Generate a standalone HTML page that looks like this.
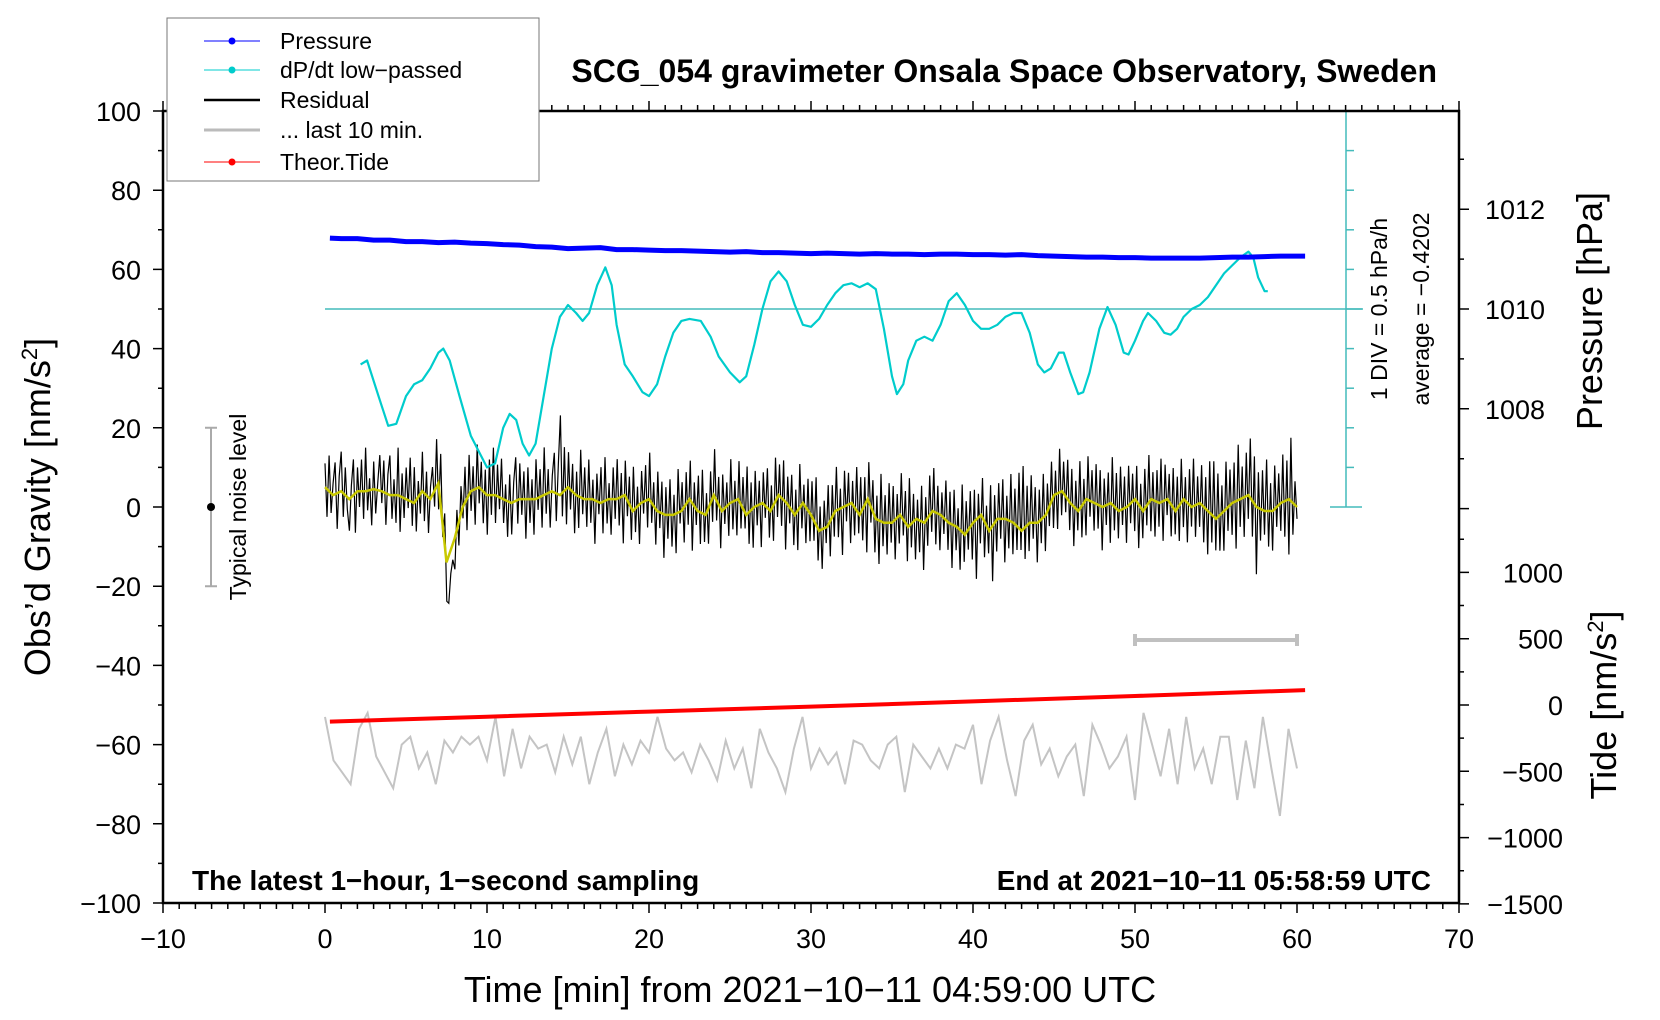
<!DOCTYPE html>
<html><head><meta charset="utf-8">
<style>
html,body{margin:0;padding:0;background:#fff;}
svg{display:block;font-family:"Liberation Sans",sans-serif;}
</style></head>
<body>
<svg id="chart" width="1660" height="1020" viewBox="0 0 1660 1020" xmlns="http://www.w3.org/2000/svg">
<rect x="0" y="0" width="1660" height="1020" fill="#fff"/>
<g id="marks"></g>
<g id="axes"></g>
<text x="1437" y="82" text-anchor="end" font-size="32" font-weight="bold">SCG_054 gravimeter Onsala Space Observatory, Sweden</text>
<text x="192" y="890" font-size="28" font-weight="bold">The latest 1−hour, 1−second sampling</text>
<text x="1431" y="890" text-anchor="end" font-size="28" font-weight="bold">End at 2021−10−11 05:58:59 UTC</text>
<text x="810" y="1002" text-anchor="middle" font-size="36">Time [min] from 2021−10−11 04:59:00 UTC</text>
<text transform="translate(50,507) rotate(-90)" text-anchor="middle" font-size="36">Obs’d Gravity [nm/s<tspan font-size="22" dy="-13">2</tspan><tspan dy="13">]</tspan></text>
<text transform="translate(1602,311) rotate(-90)" text-anchor="middle" font-size="36">Pressure [hPa]</text>
<text transform="translate(1616,705) rotate(-90)" text-anchor="middle" font-size="36">Tide [nm/s<tspan font-size="22" dy="-13">2</tspan><tspan dy="13">]</tspan></text>
<text transform="translate(1387,309) rotate(-90)" text-anchor="middle" font-size="23">1 DIV = 0.5 hPa/h</text>
<text transform="translate(1429,309) rotate(-90)" text-anchor="middle" font-size="23">average = −0.4202</text>
<text transform="translate(246,507) rotate(-90)" text-anchor="middle" font-size="23">Typical noise level</text>
<g>
<rect x="167" y="18" width="372" height="163" fill="#fff" stroke="#777" stroke-width="1"/>
<line x1="204" y1="41" x2="260" y2="41" stroke="#00f" stroke-width="1"/><circle cx="232" cy="41" r="3.5" fill="#00f"/>
<text x="280" y="49" font-size="23">Pressure</text>
<line x1="204" y1="70" x2="260" y2="70" stroke="#00cccc" stroke-width="1"/><circle cx="232" cy="70" r="3.5" fill="#00cccc"/>
<text x="280" y="78" font-size="23">dP/dt low−passed</text>
<line x1="204" y1="100" x2="260" y2="100" stroke="#000" stroke-width="2.5"/>
<text x="280" y="108" font-size="23">Residual</text>
<line x1="204" y1="130" x2="260" y2="130" stroke="#bbb" stroke-width="3"/>
<text x="280" y="138" font-size="23">... last 10 min.</text>
<line x1="204" y1="162" x2="260" y2="162" stroke="#f00" stroke-width="1"/><circle cx="232" cy="162" r="3.5" fill="#f00"/>
<text x="280" y="170" font-size="23">Theor.Tide</text>
</g>
</svg>
<script>
// ---- data ----
const pressTimes = [0.3,1,2,3,4,5,6,7,8,9,10,11,12,13,14,15,16,17,18,19,20,21,22,23,24,25,26,27,28,29,30,31,32,33,34,35,36,37,38,39,40,41,42,43,44,45,46,47,48,49,50,51,52,53,54,55,56,57,58,59,60.5];
const pressVals = [1011.42,1011.41,1011.41,1011.38,1011.38,1011.35,1011.35,1011.33,1011.34,1011.32,1011.31,1011.29,1011.28,1011.25,1011.24,1011.21,1011.22,1011.23,1011.19,1011.19,1011.18,1011.17,1011.17,1011.16,1011.15,1011.14,1011.15,1011.13,1011.13,1011.12,1011.11,1011.12,1011.11,1011.10,1011.11,1011.10,1011.10,1011.09,1011.10,1011.10,1011.09,1011.09,1011.08,1011.09,1011.07,1011.06,1011.05,1011.04,1011.04,1011.03,1011.03,1011.02,1011.02,1011.02,1011.02,1011.03,1011.04,1011.04,1011.05,1011.06,1011.06];
const dpTimes = [2.2,2.6,3.3,3.9,4.4,5,5.5,6,6.5,7,7.3,7.7,8.3,9,9.5,10,10.5,11,11.4,11.8,12.2,12.6,13,13.5,14,14.5,15,15.5,15.9,16.3,16.8,17.3,17.7,18,18.5,19,19.6,20,20.5,21,21.5,22,22.5,23.2,23.8,24.3,25,25.6,26,26.5,27,27.5,28,28.5,29,29.5,30,30.5,31,31.5,32,32.5,33,33.5,34,34.5,35,35.3,35.7,36,36.5,37,37.5,38,38.5,39,39.5,40,40.5,41,41.5,42,42.5,43,43.5,44,44.4,44.8,45.3,45.6,46,46.5,46.8,47.2,47.8,48.3,48.8,49.3,49.6,50,50.5,50.8,51.3,51.8,52.2,52.6,53,53.5,54,54.5,55,55.5,56,56.5,57,57.3,57.6,58,58.2];
const dpGravReading = [36,37,28,20.5,21,28,31,32,35,39,40,37,28,18,14,10,11,20,23.5,22,16,13,16,28,40,48,51,49,47,49,56,60.5,56,46,36,33,29,28,31,38,44,47,47.5,47,43,38,34,31.5,33,41,50,57,59.5,57,51,46,45.5,47.5,51,54,56,56.5,55.5,56.5,55,45,33,28.5,31,37,42,43,42,46,52,54,51,47,45,45,46,48,49,49,44,36,34,35,39,39,34,28.5,29,34,45,50.5,46,39,38.5,42,47,49,47,44,43.5,45,48,50,51,53,56,59,61,63,64.5,63,58,54.5,54.5];
const dpAverage = -0.4202;
const smoothVals = [5,3,4,2,4,4,4.5,4,3,3,2,1,4,2,6,-14,-8,0,4,5,3,3,2,1,2,2,2,3,4,3,5,3,2,2,1,2,2,3,-1,1,2,-1,-2,-2,-1,2,-1,-2,3,-1,1,2,-2,0,1,-1,3,1,-2,1,-2,-6,-5,-1,0,1,-2,2,-3,-4,-4,-2,-5,-3,-4,-1,-2,-4,-5,-7,-4,-2,-6,-3,-3,-4,-6,-4,-4,-2,3,4,1,-1,2,1,0,1,-1,0,2,-1,2,1,2,-1,2,0,1,-1,-3,-1,1,2,3,0,-1,-1,1,2,0];
const residDev = [
6,-7,9,-5,3,8,-9,4,10,-6,7,-3,-8,3,9,-10,6,-4,8,-7,
11,-5,3,-9,7,-6,2,9,-3,8,-8,5,10,-6,4,-7,12,-9,6,-5,
8,-2,11,-6,9,-8,4,-5,10,-7,6,-9,3,7,-4,12,-6,13,-3,8,
-10,-12,-6,-4,-8,5,-6,7,-3,9,-8,10,-5,6,-9,11,-4,7,-8,6,
-10,9,-5,12,-7,8,-3,10,-6,4,-9,7,-8,5,11,-6,9,-4,7,-10,
8,-6,5,-9,10,-3,7,-8,12,-5,6,-9,4,10,-7,8,20,-6,11,-9,
9,-5,7,-10,6,-8,12,-4,8,-7,10,-6,5,-11,7,-3,9,-8,11,-6,
4,-9,8,-5,10,-7,6,-12,9,-4,7,-8,11,-6,5,-10,8,-3,9,-7,
12,-5,6,-9,10,-4,8,-11,7,-6,9,-8,5,-10,11,-3,7,-9,8,-6,
10,-12,6,-4,9,-8,11,-7,5,-9,8,-6,12,-5,7,-10,9,-4,6,-8,
11,-7,5,-9,10,-6,8,-4,12,-8,7,-10,9,-5,6,-11,8,-3,10,-7,
6,-9,11,-5,8,-7,10,-12,7,-4,9,-8,6,-10,11,-6,5,-9,8,-7,
9,-5,12,-8,6,-10,7,-4,10,-9,8,-6,11,-7,5,-12,9,-4,8,-10,
6,-7,11,-5,9,-8,7,-13,10,-4,8,-9,6,-11,12,-6,7,-8,10,-5,
9,-10,6,-7,11,-4,8,-9,12,-6,7,-10,5,-8,9,-12,6,-7,10,-5,
11,-8,7,-9,6,-4,10,-7,8,-11,9,-6,5,-10,12,-7,8,-5,9,-9,
8,-15,6,-7,10,-9,5,-6,11,-14,7,-8,9,-5,10,-11,6,-7,12,-8,
9,-6,14,-5,16,-8,10,-7,12,-4,9,-10,8,-6,11,-9,7,-5,10,-8,
6,-9,11,-6,8,-4,10,-7,9,-10,7,-5,12,-8,6,-9,11,-4,8,-7,
10,-6,9,-11,7,-5,8,-10,12,-6,9,-7,11,-4,8,-9,10,-5,7,-8,
9,-11,6,-7,10,-5,12,-8,7,-9,8,-6,11,-10,9,-4,7,-8,10,-6,
8,-9,11,-7,6,-10,9,-5,12,-8,7,-6,10,-9,8,-11,13,-7,14,-8,
11,-9,7,-10,12,-6,9,-8,10,-12,14,-7,8,-10,11,-6,15,-9,12,-17,
9,-8,10,-6,13,-9,7,-10,11,-5,8,-7,12,-9,10,-14,16,-8,6,-3];
const grayVals = [-53,-64,-67,-70,-56,-52,-63,-67,-71,-60,-58,-66,-62,-70,-59,-62,-58,-60,-58,-64,-53,-68,-56,-66,-58,-61,-60,-67,-58,-65,-58,-70,-62,-56,-68,-60,-65,-59,-62,-53,-61,-64,-62,-67,-60,-64,-69,-59,-66,-61,-71,-56,-62,-66,-72,-61,-53,-66,-61,-65,-62,-70,-59,-60,-64,-66,-60,-58,-72,-60,-63,-66,-61,-66,-60,-61,-55,-70,-59,-53,-64,-73,-59,-55,-65,-61,-68,-63,-60,-73,-55,-60,-66,-63,-58,-74,-52,-60,-68,-56,-70,-53,-66,-61,-70,-58,-58,-74,-59,-71,-53,-66,-78,-56,-66];
const tideTimes = [0.3,10,20,30,40,50,60.5];
const tideVals = [-125,-88,-50,-12,27,68,112];

// ---- scales ----
const X = t => 163 + (t + 10) * 16.2;
const Yg = g => 507 - g * 3.96;
const Yp = p => 309 - (p - 1010) * 49.9;
const Yt = v => 705 - v * 0.1326;
const Ydp = v => Yg(50 + (v - dpAverage) / 0.5 * 10);

const NS = 'http://www.w3.org/2000/svg';
const marks = document.getElementById('marks');
const axes = document.getElementById('axes');
function mk(tag, attrs, parent) {
  const e = document.createElementNS(NS, tag);
  for (const k in attrs) e.setAttribute(k, attrs[k]);
  (parent || marks).appendChild(e);
  return e;
}
function poly(pts) { return pts.map(p => p[0].toFixed(1) + ',' + p[1].toFixed(1)).join(' '); }

let el = mk('line', {x1: X(0), y1: Ydp(dpAverage), x2: 1363, y2: Ydp(dpAverage), stroke: '#44bbbb', 'stroke-width': 1.5});


el = mk('line', {x1: 1346, y1: 111, x2: 1346, y2: 507, stroke: '#44bbbb', 'stroke-width': 1.5});


for (let i = 0; i <= 10; i++) {
  const y = 111 + i * 39.6;
  const w = (i === 0 || i === 5 || i === 10) ? 16 : 8;
  el = mk('line', {x1: (i === 0 || i === 10) ? 1330 : 1346, y1: y, x2: 1346 + w, y2: y, stroke: '#44bbbb', 'stroke-width': 1.5});
  
  
}

el = mk('polyline', {points: poly(grayVals.map((v, i) => [X(i * 60 / (grayVals.length - 1)), Yg(v)])), fill: 'none', stroke: '#c4c4c4', 'stroke-width': 2});


el = mk('path', {d: `M${X(50)},634V646M${X(50)},640H${X(60)}M${X(60)},634V646`, stroke: '#c0c0c0', 'stroke-width': 4, fill: 'none'});



el = mk('polyline', {points: poly(tideTimes.map((t, i) => [X(t), Yt(tideVals[i])])), fill: 'none', stroke: '#f00', 'stroke-width': 4});



const smoothT = smoothVals.map((v, i) => i * 60 / (smoothVals.length - 1));
function smoothAt(t) {
  const f = t / 60 * (smoothVals.length - 1);
  const i = Math.min(Math.floor(f), smoothVals.length - 2);
  const r = f - i;
  return smoothVals[i] * (1 - r) + smoothVals[i + 1] * r;
}
el = mk('polyline', {points: poly(residDev.map((d, i) => { const t = i * 60 / (residDev.length - 1); return [X(t), Yg(smoothAt(t) + d)]; })), fill: 'none', stroke: '#000', 'stroke-width': 1.2});


el = mk('polyline', {points: poly(smoothVals.map((v, i) => [X(smoothT[i]), Yg(v)])), fill: 'none', stroke: '#c8c800', 'stroke-width': 2.5});



const dpVals = dpGravReading.map(g => dpAverage + (g - 50) / 10 * 0.5);
el = mk('polyline', {points: poly(dpTimes.map((t, i) => [X(t), Ydp(dpVals[i])])), fill: 'none', stroke: '#00cccc', 'stroke-width': 2.2, 'stroke-linejoin': 'round'});



el = mk('polyline', {points: poly(pressTimes.map((t, i) => [X(t), Yp(pressVals[i])])), fill: 'none', stroke: '#0000ff', 'stroke-width': 5, 'stroke-linejoin': 'round'});



el = mk('path', {d: `M211,${Yg(20)}V${Yg(-20)}M205,${Yg(20)}H217M205,${Yg(-20)}H217`, stroke: '#aaa', 'stroke-width': 2, fill: 'none'});


el = mk('circle', {cx: 211, cy: Yg(0), r: 4, fill: '#000'});



const xTicks = [-10, 0, 10, 20, 30, 40, 50, 60, 70];
const yTicks = [-100, -80, -60, -40, -20, 0, 20, 40, 60, 80, 100];
const pTicks = [1008, 1010, 1012];
const tTicks = [-1500, -1000, -500, 0, 500, 1000];

el = mk('rect', {x: 163, y: 111, width: 1296, height: 792, fill: 'none', stroke: '#000', 'stroke-width': 2.5}, axes);


let d = '';
for (let t = -10; t <= 70; t++) {
  const L = t % 10 === 0 ? 10 : 6;
  d += `M${X(t)},903v${L}M${X(t)},111v${-L}`;
}
for (let g = -100; g <= 100; g += 10) { const L = g % 20 === 0 ? 10 : 5; d += `M163,${Yg(g)}h${-L}`; }
for (let p = 1006; p <= 1013; p++) d += `M1459,${Yp(p)}h${p % 2 === 0 ? 10 : 5}`;
for (let v = -1500; v <= 1250; v += 250) d += `M1459,${Yt(v)}h${v % 500 === 0 ? 10 : 5}`;
el = mk('path', {d: d, stroke: '#000', 'stroke-width': 1.5, fill: 'none'}, axes);



xTicks.forEach(t => {
  const e = mk('text', {x: X(t), y: 948, 'text-anchor': 'middle', 'font-size': 27}, axes);
  e.textContent = String(t).replace('-', '−');
  
  
});
yTicks.forEach(g => {
  const e = mk('text', {x: 141, y: Yg(g) + 10, 'text-anchor': 'end', 'font-size': 27}, axes);
  e.textContent = String(g).replace('-', '−');
  
  
});
pTicks.forEach(p => {
  const e = mk('text', {x: 1485, y: Yp(p) + 10, 'font-size': 27}, axes);
  e.textContent = String(p);
  
  
});
tTicks.forEach(v => {
  const e = mk('text', {x: 1563, y: Yt(v) + 10, 'text-anchor': 'end', 'font-size': 27}, axes);
  e.textContent = String(v).replace('-', '−');
  
  
});
</script>
</body></html>
